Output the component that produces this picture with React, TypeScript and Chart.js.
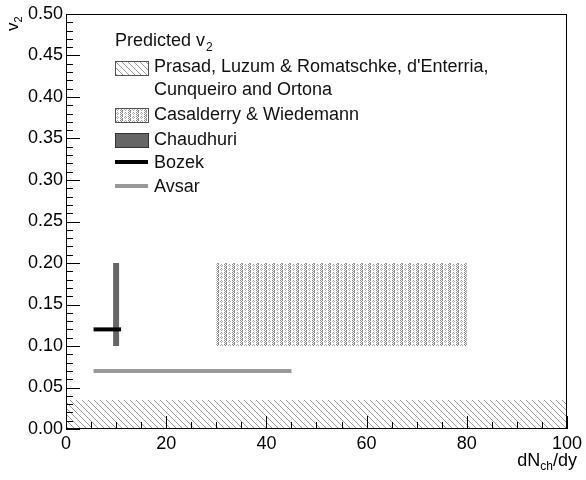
import React, { useEffect, useRef } from "react";
import { Chart, registerables } from "chart.js";

Chart.register(...registerables);

// ---- data ----
const prasadX = [0, 100];
const prasadY = [0.035, 0.035];
const prasadBase = 0;

const casalderryX = [30, 80];
const casalderryTop = [0.2, 0.2];
const casalderryBase = 0.1;

const chaudhuriX = [10, 10];
const chaudhuriY = [0.1, 0.2];

const bozekX = [5.5, 11];
const bozekY = [0.12, 0.12];

const avsarX = [5.5, 45];
const avsarY = [0.07, 0.07];

const legendTitle = "Predicted v";
const legendLabels = [
  ["Prasad, Luzum & Romatschke, d'Enterria,", "Cunqueiro and Ortona"],
  ["Casalderry & Wiedemann"],
  ["Chaudhuri"],
  ["Bozek"],
  ["Avsar"],
];

const xMin = 0, xMax = 100, xStep = 20, xMinorStep = 5;
const yMin = 0, yMax = 0.5, yStep = 0.05, yMinorStep = 0.01;

const FONT = "'Liberation Sans', Arial, Helvetica, sans-serif";

function pts(xs: number[], ys: number[]) {
  return xs.map((x, i) => ({ x, y: ys[i] }));
}

function makeHatch(): CanvasPattern | string {
  const c = document.createElement("canvas");
  c.width = 6; c.height = 6;
  const g = c.getContext("2d");
  if (!g) return "#bbb";
  g.strokeStyle = "#9a9a9a";
  g.lineWidth = 1;
  g.beginPath();
  g.moveTo(-1, -1); g.lineTo(7, 7);
  g.moveTo(-7, -1); g.lineTo(1, 7);
  g.moveTo(5, -1); g.lineTo(13, 7);
  g.stroke();
  return g.createPattern(c, "repeat") || "#bbb";
}

function makeDots(): CanvasPattern | string {
  const c = document.createElement("canvas");
  c.width = 8; c.height = 4;
  const g = c.getContext("2d");
  if (!g) return "#ccc";
  g.fillStyle = "#fff";
  g.fillRect(0, 0, 8, 4);
  g.fillStyle = "#858585";
  g.fillRect(0, 0, 1, 1);
  g.fillRect(2, 0, 1, 1);
  g.fillRect(1, 1, 1, 1);
  g.fillRect(0, 2, 1, 1);
  g.fillRect(2, 2, 1, 1);
  g.fillStyle = "#a8a8a8";
  g.fillRect(5, 0, 1, 1);
  g.fillRect(4, 1, 1, 1);
  g.fillRect(6, 1, 1, 1);
  g.fillRect(5, 2, 1, 1);
  g.fillStyle = "#999";
  g.fillRect(1, 3, 2, 1);
  return g.createPattern(c, "repeat") || "#ccc";
}

export default function App() {
  const ref = useRef<HTMLCanvasElement | null>(null);

  useEffect(() => {
    if (!ref.current) return;
    const hatch = makeHatch();
    const dots = makeDots();

    const decor = {
      id: "rootDecor",
      afterDatasetsDraw(chart: any) {
        const ctx = chart.ctx as CanvasRenderingContext2D;
        const xs = chart.scales.x;
        const ys = chart.scales.y;
        const a = chart.chartArea;
        ctx.save();
        ctx.strokeStyle = "#000";
        ctx.lineWidth = 1;
        // frame
        ctx.strokeRect(Math.round(a.left) + 0.5, Math.round(a.top) + 0.5,
          Math.round(a.right - a.left) - 1, Math.round(a.bottom - a.top) - 1);
        // ticks
        ctx.beginPath();
        const nY = Math.round((yMax - yMin) / yMinorStep);
        for (let i = 0; i <= nY; i++) {
          const v = yMin + i * yMinorStep;
          const major = i % Math.round(yStep / yMinorStep) === 0;
          const py = Math.round(ys.getPixelForValue(v)) + 0.5;
          ctx.moveTo(a.left, py);
          ctx.lineTo(a.left + (major ? 14 : 7), py);
        }
        const nX = Math.round((xMax - xMin) / xMinorStep);
        for (let i = 0; i <= nX; i++) {
          const v = xMin + i * xMinorStep;
          const major = i % Math.round(xStep / xMinorStep) === 0;
          const px = Math.round(xs.getPixelForValue(v)) + 0.5;
          ctx.moveTo(px, a.bottom);
          ctx.lineTo(px, a.bottom - (major ? 13 : 7));
        }
        ctx.stroke();

        // legend
        const lx = 115, tx = 154;
        ctx.fillStyle = "#111";
        ctx.textBaseline = "alphabetic";
        ctx.textAlign = "left";
        ctx.font = `18px ${FONT}`;
        ctx.fillText(legendTitle, lx, 46);
        const w = ctx.measureText(legendTitle).width;
        ctx.font = `12px ${FONT}`;
        ctx.fillText("2", lx + w + 1, 51);
        ctx.font = `18px ${FONT}`;
        const baselines = [72, 95, 120, 145, 168, 192];
        ctx.fillStyle = hatch as any;
        ctx.fillRect(lx, 61, 33, 14);
        ctx.strokeStyle = "#555";
        ctx.strokeRect(lx + 0.5, 61.5, 33, 14);
        ctx.fillStyle = dots as any;
        ctx.fillRect(lx, 108, 33, 14);
        ctx.strokeRect(lx + 0.5, 108.5, 33, 14);
        ctx.fillStyle = "#666";
        ctx.fillRect(lx, 133, 33, 14);
        ctx.strokeStyle = "#333";
        ctx.strokeRect(lx + 0.5, 133.5, 33, 14);
        ctx.fillStyle = "#000";
        ctx.fillRect(lx, 160, 33, 4);
        ctx.fillStyle = "#999";
        ctx.fillRect(lx, 184, 33, 4);
        ctx.fillStyle = "#111";
        ctx.fillText(legendLabels[0][0], tx, baselines[0]);
        ctx.fillText(legendLabels[0][1], tx, baselines[1]);
        ctx.fillText(legendLabels[1][0], tx, baselines[2]);
        ctx.fillText(legendLabels[2][0], tx, baselines[3]);
        ctx.fillText(legendLabels[3][0], tx, baselines[4]);
        ctx.fillText(legendLabels[4][0], tx, baselines[5]);

        // x title
        ctx.fillStyle = "#000";
        const p1 = "dN", p2 = "ch", p3 = "/dy";
        ctx.font = `18px ${FONT}`;
        const w1 = ctx.measureText(p1).width;
        const w3 = ctx.measureText(p3).width;
        ctx.font = `12px ${FONT}`;
        const w2 = ctx.measureText(p2).width;
        const right = 577;
        const start = right - w1 - w2 - w3;
        ctx.font = `18px ${FONT}`;
        ctx.fillText(p1, start, 466);
        ctx.fillText(p3, start + w1 + w2, 466);
        ctx.font = `12px ${FONT}`;
        ctx.fillText(p2, start + w1, 470);

        // y title
        ctx.save();
        ctx.translate(18, 31);
        ctx.rotate(-Math.PI / 2);
        ctx.font = `17px ${FONT}`;
        ctx.fillText("v", 0, 0);
        const wv = ctx.measureText("v").width;
        ctx.font = `11px ${FONT}`;
        ctx.fillText("2", wv, 4);
        ctx.restore();

        ctx.restore();
      },
    };

    const chart = new Chart(ref.current, {
      type: "line",
      data: {
        datasets: [
          { label: "Bozek", data: pts(bozekX, bozekY), borderColor: "#000", borderWidth: 4, pointRadius: 0, fill: false, order: 1 },
          { label: "Chaudhuri", data: pts(chaudhuriX, chaudhuriY), borderColor: "#666", borderWidth: 6, pointRadius: 0, fill: false, order: 2 },
          { label: "Avsar", data: pts(avsarX, avsarY), borderColor: "#999", borderWidth: 4, pointRadius: 0, fill: false, order: 3 },
          {
            label: "Casalderry & Wiedemann",
            data: pts(casalderryX, casalderryTop),
            borderColor: "rgba(0,0,0,0)",
            borderWidth: 0,
            backgroundColor: dots as any,
            pointRadius: 0,
            fill: { value: casalderryBase },
            order: 4,
          },
          {
            label: "Prasad",
            data: pts(prasadX, prasadY),
            borderColor: "rgba(0,0,0,0)",
            borderWidth: 0,
            backgroundColor: hatch as any,
            pointRadius: 0,
            fill: { value: prasadBase },
            order: 5,
          },
        ],
      },
      options: {
        animation: false,
        responsive: false,
        devicePixelRatio: 1,
        layout: { padding: { top: 14, right: 19, left: 0, bottom: 0 } },
        plugins: { legend: { display: false }, tooltip: { enabled: false } },
        scales: {
          x: {
            type: "linear",
            min: xMin,
            max: xMax,
            grid: { display: false, drawTicks: false },
            border: { display: false },
            ticks: {
              stepSize: xStep,
              autoSkip: false,
              maxRotation: 0,
              padding: 4,
              color: "#000",
              font: { family: FONT, size: 18 },
            },
            afterFit: (s: any) => { s.height = 51; },
          },
          y: {
            type: "linear",
            min: yMin,
            max: yMax,
            grid: { display: false, drawTicks: false },
            border: { display: false },
            ticks: {
              stepSize: yStep,
              autoSkip: false,
              padding: 3,
              color: "#000",
              font: { family: FONT, size: 18 },
              callback: (v: any) => Number(v).toFixed(2),
            },
            afterFit: (s: any) => { s.width = 66; },
          },
        },
      },
      plugins: [decor],
    } as any);
    return () => chart.destroy();
  }, []);

  return (
    <div style={{ position: "fixed", left: 0, top: 0, width: 586, height: 480, background: "#fff" }}>
      <canvas ref={ref} width={586} height={480} />
    </div>
  );
}
